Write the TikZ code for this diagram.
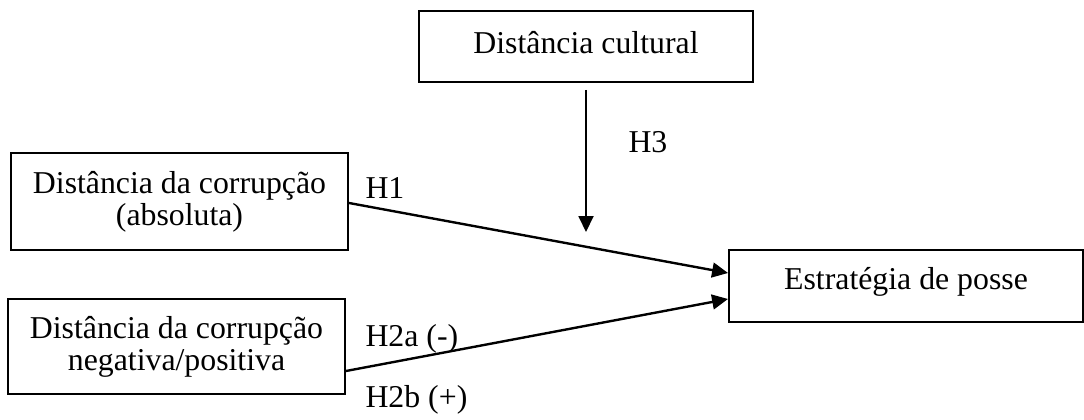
\documentclass[tikz,border=0pt]{standalone}
\usepackage{fontspec}
\setmainfont{Liberation Serif}
\usetikzlibrary{arrows.meta,calc}
\begin{document}
\begin{tikzpicture}[x=0.3774pt,y=-0.3774pt,
  box/.style={draw,line width=0.75pt,align=center,inner sep=0pt,
    font=\fontsize{12}{12}\selectfont},
  hyp/.style={anchor=base west,inner sep=0pt,font=\fontsize{12}{12}\selectfont},
  link/.style={-{Triangle[length=6pt,width=5.6pt]},line width=0.9pt}]
\useasboundingbox (0,0) rectangle (1084,420);
% Draw the four boxes
\node[box,minimum width=126pt,minimum height=26.8pt,text depth=3pt] (cult) at (586,46.5) {Distância cultural};
\node[box,minimum width=127.2pt,minimum height=36.6pt] (abs) at (179.5,201.5) {Distância da corrupção\\(absoluta)};
\node[box,minimum width=127.2pt,minimum height=35.9pt] (neg) at (176.5,346.5) {Distância da corrupção\\negativa/positiva};
\node[box,minimum width=133.6pt,minimum height=27.2pt,text depth=5.6pt] (est) at (906,286) {Estratégia de posse};
% Moderating arrow
\coordinate (mod-end) at (586,232);
\draw[link] ($(cult.south)+(0,7)$) -- (mod-end);
\node[hyp] (h3) at (628,153) {H3};
% Direct arrows
\draw[link] ($(abs.east)+(0,1.5)$) -- ($(est.west)+(0,-13)$);
\draw[link] ($(neg.east)+(0,24.5)$) -- ($(est.west)+(0,13)$);
\node[hyp] (h1) at (365,199) {H1};
\node[hyp] (h2a) at (365,347) {H2a (-)};
\node[hyp] (h2b) at (365,408) {H2b (+)};
\end{tikzpicture}
\end{document}
